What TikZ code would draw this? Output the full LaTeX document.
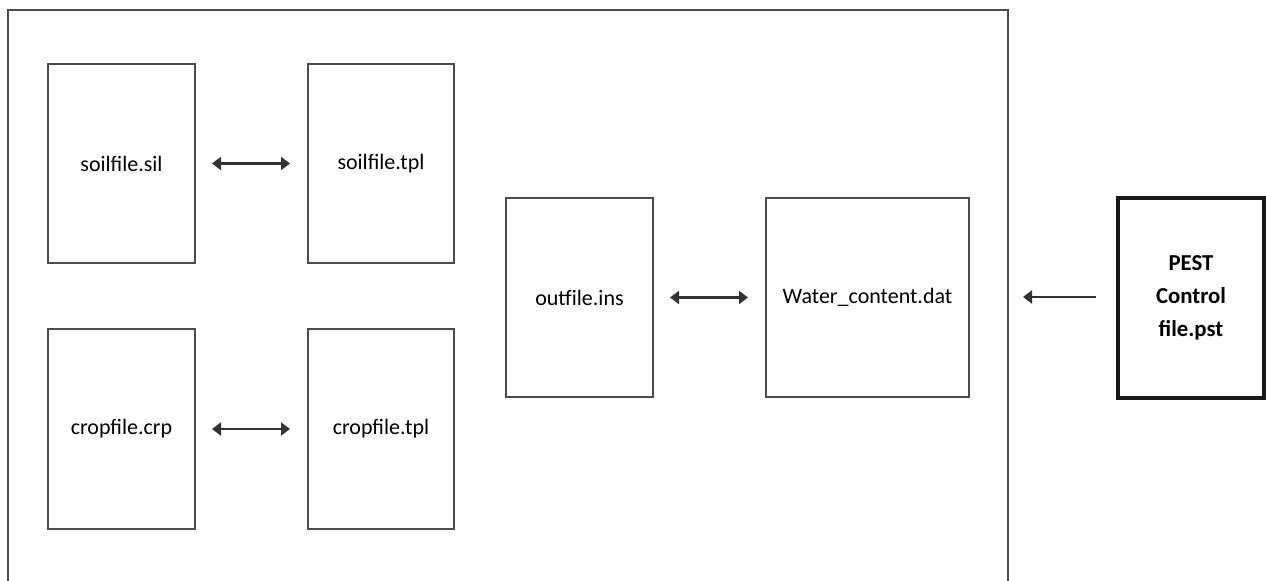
\documentclass[tikz,border=0pt]{standalone}
\usepackage{fontspec}
\setmainfont{Carlito}
\usetikzlibrary{arrows.meta}
\tikzset{
  filebox/.style={draw=black!70, line width=1pt, fill=white, inner sep=0pt, font=\fontsize{11}{13}\selectfont},
  pestbox/.style={draw=black!90, line width=1.6pt, inner sep=0pt, align=center, font=\fontsize{11.4}{16.5}\selectfont\bfseries},
  tip/.style={Triangle[length=4.5pt,width=6.5pt]},
  link/.style={draw=black!80, line width=1.2pt, {Triangle[length=4.5pt,width=6.5pt]}-{Triangle[length=4.5pt,width=6.5pt]}, shorten <=8pt, shorten >=8.5pt},
  onelink/.style={draw=black!80, line width=1.2pt, -{Triangle[length=4.5pt,width=6.5pt]}, shorten <=10pt, shorten >=7.5pt},
  frame/.style={draw=black!70, line width=1pt}
}
\begin{document}
\begin{tikzpicture}[x=0.5pt,y=-0.5pt]
\useasboundingbox (0,0) rectangle (1266,581);
% outer frame (open at the bottom)
\draw[frame] (8,581) -- (8,10) -- (1008,10) -- (1008,581);
\coordinate (frameR) at (1008,297);
% file boxes
\node[filebox, minimum width=73.5pt, minimum height=99.5pt] (sil) at (121.5,163.5) {soilfile.sil};
\node[filebox, minimum width=73pt, minimum height=99.5pt] (siltpl) at (381,163.5) {soilfile.tpl};
\node[filebox, minimum width=73.5pt, minimum height=100pt] (crp) at (121.5,429) {cropfile.crp};
\node[filebox, minimum width=73pt, minimum height=100pt] (crptpl) at (381,429) {cropfile.tpl};
\node[filebox, minimum width=73.5pt, minimum height=99.5pt] (ins) at (579.5,297.5) {outfile.ins};
\node[filebox, minimum width=101.5pt, minimum height=99.5pt] (dat) at (867.5,297.5) {Water\_content.dat};
\node[pestbox, minimum width=73pt, minimum height=100pt] (pest) at (1191,298) {PEST\\Control\\file.pst};
% connectors
\draw[link] (sil.east) -- (siltpl.west);
\draw[link] (crp.east) -- (crptpl.west);
\draw[link] (ins.east) -- (dat.west);
\draw[onelink] (pest.west |- frameR) -- (frameR);
\end{tikzpicture}
\end{document}
